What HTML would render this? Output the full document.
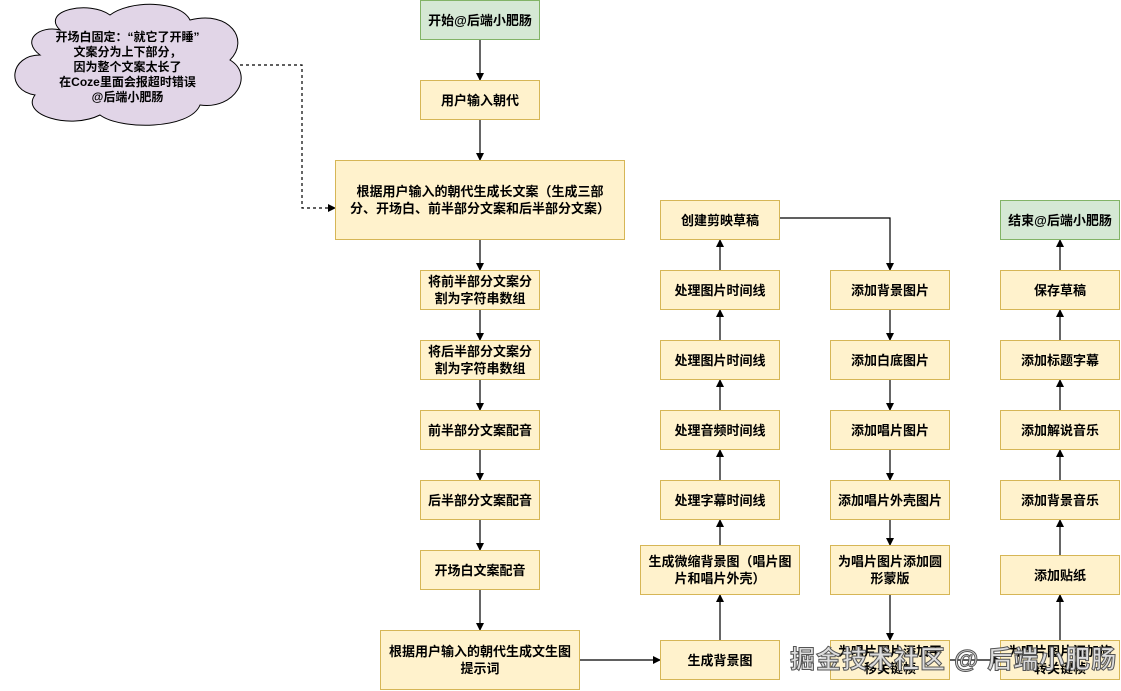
<!DOCTYPE html>
<html><head><meta charset="utf-8"><style>
body{margin:0;width:1121px;height:691px;background:#fff;position:relative;overflow:hidden;font-family:"Liberation Sans","Noto Sans CJK SC",sans-serif;}
.b{position:absolute;box-sizing:border-box;background:#fff2cc;border:1px solid #d6b656;display:flex;align-items:center;justify-content:center;text-align:center;font-size:13px;font-weight:bold;line-height:17px;color:#000;padding:0 3px;}
.g{background:#d5e8d4;border-color:#82b366;}
svg{position:absolute;left:0;top:0;}
.wm{position:absolute;left:790px;top:640px;font-size:25px;color:#ddd;-webkit-text-stroke:1px #555;font-weight:bold;letter-spacing:1px;white-space:nowrap;}
</style></head><body>
<svg width="1121" height="691">
<defs><marker id="a" markerWidth="8" markerHeight="8" refX="7" refY="4" orient="auto" markerUnits="userSpaceOnUse"><path d="M0,0 L8,4 L0,8 Z" fill="#000"/></marker></defs>
<path d="M60,30 C40,10 90,0 110,15 C130,0 180,0 190,20 C230,10 250,40 230,60 C255,75 235,110 200,105 C190,130 120,130 100,115 C70,130 20,115 35,95 C5,90 10,55 40,55 C20,40 40,25 60,30 Z" fill="#e1d5e7" stroke="#000" stroke-width="1"/>
<g stroke="#000" stroke-width="1.2" fill="none" marker-end="url(#a)">
<path d="M480,40 V80"/><path d="M480,120 V160"/><path d="M480,240 V270"/><path d="M480,310 V340"/><path d="M480,380 V410"/><path d="M480,450 V480"/><path d="M480,520 V550"/><path d="M480,590 V630"/>
<path d="M580,660 H660"/>
<path d="M720,640 V595"/><path d="M720,545 V520"/><path d="M720,480 V450"/><path d="M720,410 V380"/><path d="M720,340 V310"/><path d="M720,270 V240"/>
<path d="M780,218 H890 V270"/>
<path d="M890,310 V340"/><path d="M890,380 V410"/><path d="M890,450 V480"/><path d="M890,520 V545"/><path d="M890,595 V640"/>
<path d="M950,660 H1000"/>
<path d="M1060,640 V595"/><path d="M1060,555 V520"/><path d="M1060,480 V450"/><path d="M1060,410 V380"/><path d="M1060,340 V310"/><path d="M1060,270 V240"/>
<path d="M240,65 H302 V208 H335" stroke-dasharray="3,3"/>
</g>
</svg>
<div class="b" style="left:20px;top:22px;width:215px;height:90px;background:none;border:none;font-size:12px;line-height:15px">开场白固定：“就它了开睡”<br>文案分为上下部分，<br>因为整个文案太长了<br>在Coze里面会报超时错误<br>@后端小肥肠</div>
<div class="b g" style="left:420px;top:0;width:120px;height:40px">开始@后端小肥肠</div>
<div class="b" style="left:420px;top:80px;width:120px;height:40px">用户输入朝代</div>
<div class="b" style="left:335px;top:160px;width:290px;height:80px;padding:0 10px">根据用户输入的朝代生成长文案（生成三部分、开场白、前半部分文案和后半部分文案）</div>
<div class="b" style="left:420px;top:270px;width:120px;height:40px">将前半部分文案分割为字符串数组</div>
<div class="b" style="left:420px;top:340px;width:120px;height:40px">将后半部分文案分割为字符串数组</div>
<div class="b" style="left:420px;top:410px;width:120px;height:40px">前半部分文案配音</div>
<div class="b" style="left:420px;top:480px;width:120px;height:40px">后半部分文案配音</div>
<div class="b" style="left:420px;top:550px;width:120px;height:40px">开场白文案配音</div>
<div class="b" style="left:380px;top:630px;width:200px;height:60px">根据用户输入的朝代生成文生图提示词</div>
<div class="b" style="left:660px;top:640px;width:120px;height:40px">生成背景图</div>
<div class="b" style="left:640px;top:545px;width:160px;height:50px">生成微缩背景图（唱片图片和唱片外壳）</div>
<div class="b" style="left:660px;top:480px;width:120px;height:40px">处理字幕时间线</div>
<div class="b" style="left:660px;top:410px;width:120px;height:40px">处理音频时间线</div>
<div class="b" style="left:660px;top:340px;width:120px;height:40px">处理图片时间线</div>
<div class="b" style="left:660px;top:270px;width:120px;height:40px">处理图片时间线</div>
<div class="b" style="left:660px;top:200px;width:120px;height:40px">创建剪映草稿</div>
<div class="b" style="left:830px;top:270px;width:120px;height:40px">添加背景图片</div>
<div class="b" style="left:830px;top:340px;width:120px;height:40px">添加白底图片</div>
<div class="b" style="left:830px;top:410px;width:120px;height:40px">添加唱片图片</div>
<div class="b" style="left:830px;top:480px;width:120px;height:40px">添加唱片外壳图片</div>
<div class="b" style="left:830px;top:545px;width:120px;height:50px">为唱片图片添加圆形蒙版</div>
<div class="b" style="left:830px;top:640px;width:120px;height:40px">为唱片图片添加平移关键帧</div>
<div class="b g" style="left:1000px;top:200px;width:120px;height:40px">结束@后端小肥肠</div>
<div class="b" style="left:1000px;top:270px;width:120px;height:40px">保存草稿</div>
<div class="b" style="left:1000px;top:340px;width:120px;height:40px">添加标题字幕</div>
<div class="b" style="left:1000px;top:410px;width:120px;height:40px">添加解说音乐</div>
<div class="b" style="left:1000px;top:480px;width:120px;height:40px">添加背景音乐</div>
<div class="b" style="left:1000px;top:555px;width:120px;height:40px">添加贴纸</div>
<div class="b" style="left:1000px;top:640px;width:120px;height:40px">为唱片图片添加旋转关键帧</div>
<div class="wm">掘金技术社区 @ 后端小肥肠</div>
</body></html>
